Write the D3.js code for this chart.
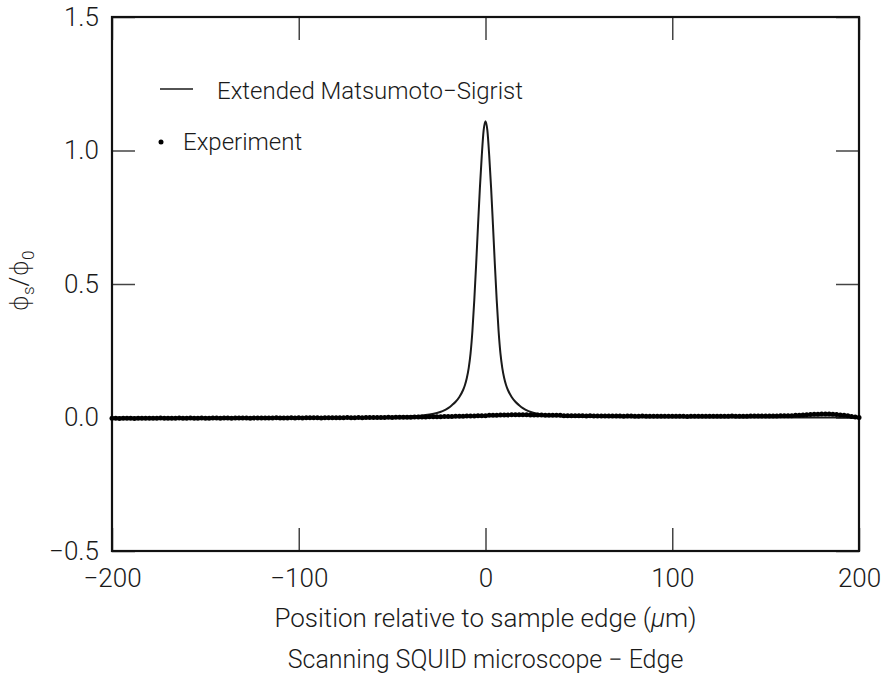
<!DOCTYPE html>
<html>
<head>
<meta charset="utf-8">
<script src="https://cdn.jsdelivr.net/npm/d3@7"></script>
<style>
  body { margin: 0; background: #fff; }
  text { font-family: Roboto, "DejaVu Sans", sans-serif; font-weight: 300; fill: #1a1a1a; }
</style>
</head>
<body>
<div id="chart"></div>
<script>
// x ticks and y ticks
var xTicks = [-200, -100, 0, 100, 200];
var yTicks = [-0.5, 0.0, 0.5, 1.0, 1.5];

// theory curve (Extended Matsumoto-Sigrist)
var theoryX = [-200, -150, -100, -80, -60, -50, -40, -35, -30, -26, -23, -20, -18, -16, -14, -12, -11, -10, -9, -8, -7, -6, -5, -4, -3, -2, -1, 0,
               1, 2, 3, 4, 5, 6, 7, 8, 9, 10, 11, 12, 14, 16, 18, 20, 23, 26, 30, 35, 40, 50, 60, 80, 100, 150, 200];
var theoryY = [0, 0, 0.0005, 0.001, 0.002, 0.003, 0.005, 0.007, 0.011, 0.017, 0.024, 0.035, 0.046, 0.059, 0.077, 0.103, 0.122, 0.148, 0.185, 0.24, 0.325, 0.44, 0.575, 0.72, 0.86, 0.98, 1.075, 1.11,
               1.075, 0.98, 0.86, 0.72, 0.575, 0.44, 0.325, 0.24, 0.185, 0.148, 0.122, 0.103, 0.077, 0.059, 0.046, 0.035, 0.024, 0.017, 0.011, 0.007, 0.005, 0.003, 0.002, 0.001, 0.0005, 0, 0];

// experiment, one point every 2 um from -200 to 200
var expStart = -200, expStep = 2;
var expY = [
  -0.003,-0.003,-0.004,-0.003,-0.003,-0.003,-0.004,-0.003,-0.003,-0.003,
  -0.003,-0.003,-0.003,-0.002,-0.003,-0.003,-0.003,-0.003,-0.002,-0.003,
  -0.003,-0.002,-0.003,-0.003,-0.002,-0.003,-0.003,-0.002,-0.002,-0.003,
  -0.002,-0.002,-0.003,-0.002,-0.002,-0.002,-0.002,-0.003,-0.002,-0.002,
  -0.002,-0.002,-0.002,-0.002,-0.001,-0.002,-0.002,-0.002,-0.001,-0.002,
  -0.001,-0.002,-0.001,-0.001,-0.001,-0.001,-0.002,-0.001,-0.001,-0.001,
  -0.001,-0.001,-0.001, 0.000,-0.001,-0.001, 0.000,-0.001, 0.000, 0.000,
   0.000, 0.000, 0.000, 0.000, 0.001, 0.000, 0.001, 0.001, 0.001, 0.001,
   0.001, 0.002, 0.002, 0.002, 0.002, 0.003, 0.003, 0.003, 0.003, 0.004,
   0.004, 0.004, 0.005, 0.005, 0.005, 0.006, 0.006, 0.006, 0.007, 0.007,
   0.007, 0.008, 0.008, 0.008, 0.009, 0.009, 0.009, 0.010, 0.010, 0.010,
   0.010, 0.010, 0.009, 0.009, 0.009, 0.009, 0.008, 0.008, 0.008, 0.008,
   0.008, 0.007, 0.007, 0.007, 0.007, 0.007, 0.007, 0.006, 0.007, 0.006,
   0.006, 0.006, 0.006, 0.006, 0.006, 0.006, 0.006, 0.005, 0.006, 0.006,
   0.005, 0.005, 0.006, 0.005, 0.005, 0.005, 0.005, 0.005, 0.005, 0.005,
   0.005, 0.005, 0.005, 0.005, 0.004, 0.005, 0.005, 0.005, 0.005, 0.005,
   0.005, 0.005, 0.005, 0.005, 0.005, 0.005, 0.006, 0.005, 0.005, 0.005,
   0.005, 0.006, 0.006, 0.006, 0.006, 0.006, 0.006, 0.006, 0.006, 0.007,
   0.007, 0.007, 0.007, 0.008, 0.008, 0.009, 0.010, 0.011, 0.012, 0.012,
   0.013, 0.013, 0.013, 0.012, 0.011, 0.009, 0.008, 0.007, 0.004, 0.002,
   0.000
];

// set the dimensions and margins of the graph
var margin = {top: 17, right: 23, bottom: 123, left: 112},
    width = 882 - margin.left - margin.right,
    height = 674 - margin.top - margin.bottom;

var x = d3.scaleLinear().domain([-200, 200]).range([0, width]);
var y = d3.scaleLinear().domain([-0.5, 1.5]).range([height, 0]);

var svg = d3.select("#chart").append("svg")
    .attr("width", 882)
    .attr("height", 674)
  .append("g")
    .attr("transform", "translate(" + margin.left + "," + margin.top + ")");

function styleAxis(g) {
  g.select(".domain").remove();
  g.selectAll(".tick line").attr("stroke", "#444").attr("stroke-width", 1.5);
  g.selectAll(".tick text").style("font-size", "26px").attr("fill", "#1a1a1a");
}

// bottom axis with labels, ticks pointing inward
svg.append("g")
    .attr("transform", "translate(0," + height + ")")
    .call(d3.axisBottom(x).tickValues(xTicks).tickSize(-23).tickPadding(18).tickFormat(d3.format("d")))
    .call(styleAxis);

// top axis, ticks only
svg.append("g")
    .call(d3.axisTop(x).tickValues(xTicks).tickSize(-23).tickFormat(""))
    .call(styleAxis);

// left axis with labels
svg.append("g")
    .call(d3.axisLeft(y).tickValues(yTicks).tickSize(-23).tickPadding(13).tickFormat(d3.format(".1f")))
    .call(styleAxis);

// right axis, ticks only
svg.append("g")
    .attr("transform", "translate(" + width + ",0)")
    .call(d3.axisRight(y).tickValues(yTicks).tickSize(-23).tickFormat(""))
    .call(styleAxis);

// frame
svg.append("rect")
    .attr("width", width)
    .attr("height", height)
    .attr("fill", "none")
    .attr("stroke", "#111")
    .attr("stroke-width", 2.2);

// theory line
var theory = theoryX.map(function(d, i) { return {x: d, y: theoryY[i]}; });
var valueline = d3.line()
    .x(function(d) { return x(d.x); })
    .y(function(d) { return y(d.y); })
    .curve(d3.curveMonotoneX);

svg.append("path")
    .datum(theory)
    .attr("fill", "none")
    .attr("stroke", "#1a1a1a")
    .attr("stroke-width", 2)
    .attr("d", valueline);

// experiment dots
var exp = expY.map(function(d, i) { return {x: expStart + i * expStep, y: d}; });
svg.append("g").selectAll("circle")
    .data(exp)
  .enter().append("circle")
    .attr("cx", function(d) { return x(d.x); })
    .attr("cy", function(d) { return y(d.y); })
    .attr("r", 2.5)
    .attr("fill", "#000");

// legend
svg.append("line")
    .attr("x1", 48).attr("x2", 81)
    .attr("y1", 72).attr("y2", 72)
    .attr("stroke", "#1a1a1a").attr("stroke-width", 1.6);
svg.append("text")
    .attr("x", 105).attr("y", 82)
    .style("font-size", "24px")
    .text("Extended Matsumoto\u2212Sigrist");
svg.append("circle")
    .attr("cx", 49).attr("cy", 125).attr("r", 2.5).attr("fill", "#000");
svg.append("text")
    .attr("x", 71).attr("y", 133)
    .style("font-size", "24px")
    .text("Experiment");

// x axis title
var xt = svg.append("text")
    .attr("x", x(0)).attr("y", 610)
    .attr("text-anchor", "middle")
    .style("font-size", "26px");
xt.append("tspan").text("Position relative to sample edge (");
xt.append("tspan").style("font-style", "italic").text("\u03bc");
xt.append("tspan").text("m)");

svg.append("text")
    .attr("x", x(0)).attr("y", 651)
    .attr("text-anchor", "middle")
    .style("font-size", "25px")
    .text("Scanning SQUID microscope \u2212 Edge");

// y axis title
var yt = svg.append("text")
    .attr("transform", "translate(-84," + (281 - margin.top) + ") rotate(-90)")
    .attr("text-anchor", "middle")
    .style("font-size", "25px");
yt.append("tspan").text("\u03d5");
yt.append("tspan").attr("dy", 6).style("font-size", "17px").text("s");
yt.append("tspan").attr("dy", -6).text("/\u03d5");
yt.append("tspan").attr("dy", 6).style("font-size", "17px").text("0");
</script>
</body>
</html>
